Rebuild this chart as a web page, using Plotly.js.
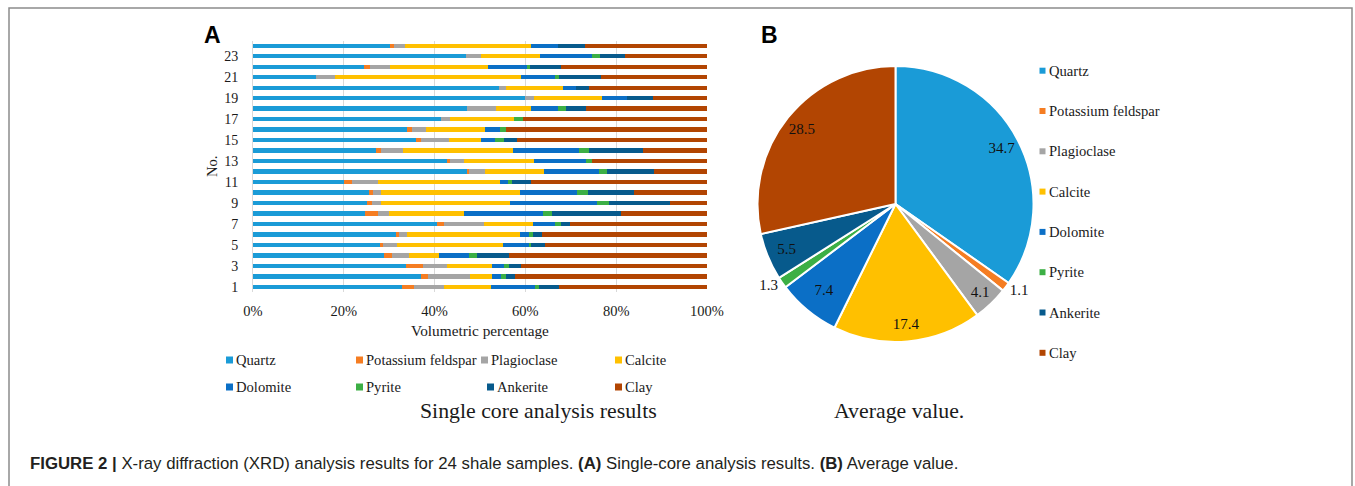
<!DOCTYPE html>
<html>
<head>
<meta charset="utf-8">
<script src="https://cdn.plot.ly/plotly-3.0.1.min.js"></script>
<style>
  html, body { margin: 0; padding: 0; background: #ffffff; }
  #chart { width: 1355px; height: 486px; }
</style>
</head>
<body>
<div id="chart"></div>
<script>
// ---------------- DATA ----------------
const minerals = ["Quartz", "Potassium feldspar", "Plagioclase", "Calcite", "Dolomite", "Pyrite", "Ankerite", "Clay"];
const sampleNo = ["1","2","3","4","5","6","7","8","9","10","11","12","13","14","15","16","17","18","19","20","21","22","23","24"];
const yTickLabels = ["1","3","5","7","9","11","13","15","17","19","21","23"];
const xTickVals = [0, 20, 40, 60, 80, 100];
const xTickLabels = ["0%", "20%", "40%", "60%", "80%", "100%"];

// volumetric percentages, samples 1..24
const quartz      = [32.9, 37.0, 33.6, 28.9, 28.0, 31.5, 40.6, 24.7, 25.1, 25.6, 20.1, 47.2, 42.8, 27.2, 35.9, 34.0, 41.4, 47.1, 59.9, 54.2, 13.8, 24.5, 47.0, 30.1];
const kFeldspar   = [2.5, 1.6, 3.9, 1.8, 0.7, 0.6, 1.4, 2.9, 1.2, 0.9, 1.7, 0.4, 0.6, 0.9, 1.0, 1.1, 0, 0, 0, 0, 0, 1.3, 0, 1.0];
const plagioclase = [6.7, 9.2, 5.3, 3.7, 3.0, 1.9, 8.8, 2.3, 2.0, 1.6, 5.8, 3.5, 3.0, 4.9, 6.2, 3.0, 2.0, 6.5, 2.0, 1.5, 4.3, 4.3, 3.3, 2.3];
const calcite     = [10.3, 4.9, 9.8, 6.5, 23.4, 24.8, 10.9, 16.5, 28.3, 30.8, 26.7, 13.0, 15.4, 24.2, 7.1, 13.0, 14.1, 7.6, 14.9, 12.6, 40.9, 21.7, 13.0, 27.9];
const dolomite    = [9.8, 1.9, 2.6, 6.6, 5.7, 2.0, 4.9, 17.4, 19.2, 12.4, 1.8, 12.2, 11.5, 14.5, 3.1, 3.3, 0, 5.9, 5.6, 2.9, 7.6, 8.6, 11.3, 5.9];
const pyrite      = [0.8, 1.2, 1.1, 1.8, 0.4, 0.8, 1.2, 2.0, 2.6, 2.5, 0.9, 1.7, 1.4, 2.2, 1.9, 1.4, 2.0, 1.8, 0, 0, 0.8, 0.7, 1.8, 0];
const ankerite    = [4.5, 1.8, 2.8, 7.0, 3.2, 2.0, 2.0, 15.2, 13.4, 10.2, 4.3, 10.3, 0, 12.1, 3.0, 0, 0, 4.4, 5.8, 2.9, 9.2, 6.8, 5.6, 6.0];
const clay        = [32.5, 42.4, 40.9, 43.7, 35.6, 36.4, 30.2, 19.0, 8.2, 16.0, 38.7, 11.7, 25.3, 14.0, 41.8, 44.2, 40.5, 26.7, 11.8, 25.9, 23.4, 32.1, 18.0, 26.8];

// average values (pie)
const averageValues = [34.7, 1.1, 4.1, 17.4, 7.4, 1.3, 5.5, 28.5];

// ---------------- STYLE ----------------
const colors = ["#1A9BD7", "#F57D22", "#A5A5A5", "#FFC000", "#0B6FC6", "#3CAF45", "#075A8C", "#B24502"];
const serif = "Liberation Serif, Times New Roman, serif";
const sans = "Liberation Sans, Arial, sans-serif";
const textCol = "#1a1a1a";
const W = 1355, H = 486;
const px = v => v / W;
const py = v => 1 - v / H;

const series = [quartz, kFeldspar, plagioclase, calcite, dolomite, pyrite, ankerite, clay];

const traces = series.map((vals, i) => ({
  type: "bar",
  orientation: "h",
  name: minerals[i],
  y: sampleNo,
  x: vals,
  width: 0.42,
  marker: { color: colors[i], line: { width: 0 } },
  xaxis: "x",
  yaxis: "y",
  hoverinfo: "name+x"
}));

const pieDomain = { x: [px(757), px(1034)], y: [py(342), py(66)] };
const pieFont = { family: serif, size: 15, color: "#111111" };

// solid pie: labels of the small slices
traces.push({
  type: "pie",
  labels: minerals,
  values: averageValues,
  sort: false,
  direction: "clockwise",
  rotation: 0,
  marker: { colors: colors, line: { color: "#ffffff", width: 2 } },
  texttemplate: ["", "%{value}", "%{value}", "", "%{value}", "%{value}", "%{value}", ""],
  textposition: ["none", "outside", "inside", "none", "inside", "outside", "inside", "none"],
  insidetextorientation: "horizontal",
  textfont: pieFont,
  domain: pieDomain,
  showlegend: false,
  hoverinfo: "label+value"
});
// transparent ring overlay: places labels of the large slices near the rim
traces.push({
  type: "pie",
  labels: minerals,
  values: averageValues,
  sort: false,
  direction: "clockwise",
  rotation: 0,
  hole: 0.74,
  marker: { colors: minerals.map(() => "rgba(0,0,0,0)"), line: { width: 0 } },
  texttemplate: ["%{value}", "", "", "%{value}", "", "", "", "%{value}"],
  textposition: ["inside", "none", "none", "inside", "none", "none", "none", "inside"],
  insidetextorientation: "horizontal",
  textfont: pieFont,
  domain: pieDomain,
  showlegend: false,
  hoverinfo: "skip"
});

// ---------------- MANUAL LEGENDS ----------------
const shapes = [];
const annotations = [];

// figure frame
shapes.push({ type: "rect", xref: "paper", yref: "paper",
  x0: px(9), x1: px(1352), y0: -0.1, y1: py(8),
  line: { color: "#8c8c8c", width: 1.5 }, fillcolor: "rgba(0,0,0,0)", layer: "below" });

// bar legend (2 rows x 4 columns)
const barLegX = [226, 356, 481, 615, 226, 356, 487, 615];
const barLegY = [360, 360, 360, 360, 387, 387, 387, 387];
minerals.forEach((m, i) => {
  const x0 = barLegX[i], yc = barLegY[i];
  shapes.push({ type: "rect", xref: "paper", yref: "paper",
    x0: px(x0), x1: px(x0 + 7), y0: py(yc + 3.5), y1: py(yc - 3.5),
    fillcolor: colors[i], line: { width: 0 } });
  annotations.push({ xref: "paper", yref: "paper", x: px(x0 + 8), y: py(yc),
    xanchor: "left", yanchor: "middle", showarrow: false, text: m,
    font: { family: serif, size: 14.6, color: textCol } });
});

// pie legend (vertical)
minerals.forEach((m, i) => {
  const yc = 70.7 + i * 40.3;
  shapes.push({ type: "rect", xref: "paper", yref: "paper",
    x0: px(1039.5), x1: px(1045.5), y0: py(yc + 3), y1: py(yc - 3),
    fillcolor: colors[i], line: { width: 0 } });
  annotations.push({ xref: "paper", yref: "paper", x: px(1046.5), y: py(yc),
    xanchor: "left", yanchor: "middle", showarrow: false, text: m,
    font: { family: serif, size: 14.6, color: textCol } });
});

// panel letters, sub-titles, caption
annotations.push(
  { xref: "paper", yref: "paper", x: px(212), y: py(35), xanchor: "center", yanchor: "middle",
    showarrow: false, text: "<b>A</b>", font: { family: sans, size: 23, color: "#000" } },
  { xref: "paper", yref: "paper", x: px(769), y: py(35), xanchor: "center", yanchor: "middle",
    showarrow: false, text: "<b>B</b>", font: { family: sans, size: 23, color: "#000" } },
  { xref: "paper", yref: "paper", x: px(538.5), y: py(410.5), xanchor: "center", yanchor: "middle",
    showarrow: false, text: "Single core analysis results", font: { family: serif, size: 21.8, color: textCol } },
  { xref: "paper", yref: "paper", x: px(898.5), y: py(411), xanchor: "center", yanchor: "middle",
    showarrow: false, text: "Average value.", font: { family: serif, size: 21.8, color: textCol } },
  { xref: "paper", yref: "paper", x: px(28), y: py(463.5), xanchor: "left", yanchor: "middle",
    showarrow: false,
    text: "<b>FIGURE 2 |</b> X-ray diffraction (XRD) analysis results for 24 shale samples. <b>(A)</b> Single-core analysis results. <b>(B)</b> Average value.",
    font: { family: sans, size: 16.8, color: "#231f20" } }
);

const layout = {
  width: W, height: H,
  margin: { l: 0, r: 0, t: 0, b: 0 },
  paper_bgcolor: "#ffffff",
  plot_bgcolor: "#ffffff",
  barmode: "stack",
  showlegend: false,
  xaxis: {
    domain: [px(253), px(707)],
    range: [0, 100],
    tickmode: "array",
    tickvals: xTickVals,
    ticktext: xTickLabels,
    showgrid: true, gridcolor: "#d9d9d9", gridwidth: 1,
    zeroline: false, showline: false, ticks: "",
    ticklabelstandoff: 8,
    tickfont: { family: serif, size: 14.5, color: textCol },
    title: { text: "Volumetric percentage", standoff: 7, font: { family: serif, size: 15.3, color: textCol } },
    fixedrange: true
  },
  yaxis: {
    domain: [py(292.3), py(40.5)],
    type: "category",
    categoryorder: "array",
    categoryarray: sampleNo,
    range: [-0.5, 23.5],
    tickmode: "array",
    tickvals: yTickLabels,
    ticktext: yTickLabels,
    showgrid: false, zeroline: false,
    showline: true, linecolor: "#d9d9d9", linewidth: 1,
    ticks: "",
    ticklabelstandoff: 11,
    tickfont: { family: serif, size: 14, color: textCol },
    title: { text: "No.", standoff: 3, font: { family: serif, size: 14.5, color: textCol } },
    fixedrange: true
  },
  shapes: shapes,
  annotations: annotations
};

Plotly.newPlot("chart", traces, layout, { displayModeBar: false, staticPlot: true });
</script>
</body>
</html>
